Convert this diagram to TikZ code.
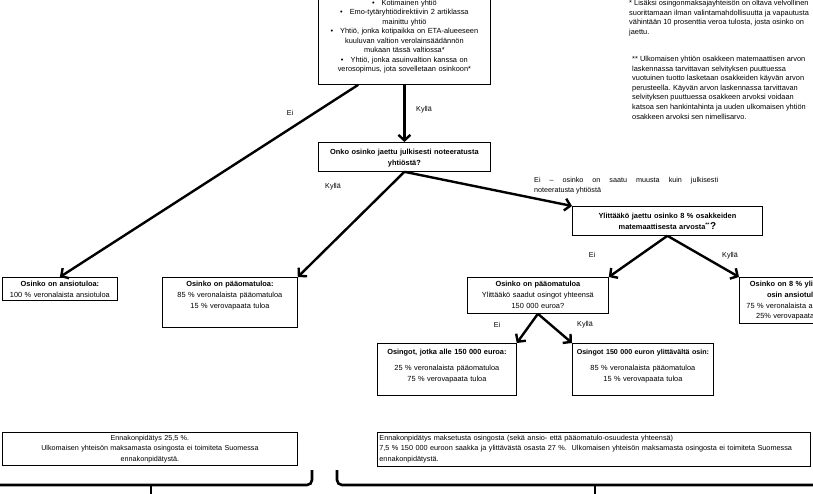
\documentclass[tikz,border=0pt]{standalone}
\usepackage{fontspec}
\setmainfont{Liberation Sans}
\usetikzlibrary{arrows.meta, calc, positioning}
\newcommand{\itemdot}{\textbullet\hspace{7pt}}

\begin{document}
\begin{tikzpicture}[x=1pt,y=-1pt,->,>={Straight Barb[length=5.5pt,width=12pt]},line width=2.4pt]
	\tikzset{
		box/.style 2 args={draw, line width=0.8pt, anchor=north west, inner sep=2pt, align=center,
			font=\fontsize{7.4}{10.8}\selectfont, text width=#1, text height=7pt, text depth=#2},
		lbl/.style={font=\fontsize{7.2}{9}\selectfont, inner sep=0pt},
		note/.style={anchor=north west, align=left, inner sep=0pt, font=\fontsize{7.4}{9.6}\selectfont},
		brace/.style={-, line width=2.6pt, rounded corners=5pt}
	}
	\useasboundingbox (0,0) rectangle (813,493);
	\clip (0,0) rectangle (813,493);

	% question boxes
	\node[box={168pt}{77.3pt}, text height=12.7pt, font=\fontsize{7.4}{9.5}\selectfont] (top) at (318,-10)
		{\itemdot Kotimainen yhtiö\\
		\itemdot Emo-tytäryhtiödirektiivin 2 artiklassa\\
		mainittu yhtiö\\
		\itemdot Yhtiö, jonka kotipaikka on ETA-alueeseen\\
		kuuluvan valtion verolainsäädännön\\
		mukaan tässä valtiossa*\\
		\itemdot Yhtiö, jonka asuinvaltion kanssa on\\
		verosopimus, jota sovelletaan osinkoon*};
	\node[box={168pt}{14.7pt}, text height=10.3pt] (q1) at (318,142)
		{\textbf{Onko osinko jaettu julkisesti noteeratusta\\ yhtiöstä?}};
	\node[box={186pt}{14.7pt}, text height=10.3pt] (q2) at (572,206)
		{\textbf{Ylittääkö jaettu osinko 8 \% osakkeiden\\ matemaattisesta arvosta\textsuperscript{**}{\fontsize{10}{10}\selectfont ?}}};

	% result boxes
	\node[box={111pt}{12pt}] (ans) at (2,277)
		{\textbf{Osinko on ansiotuloa:}\\ 100 \% veronalaista ansiotuloa};
	\node[box={131pt}{39pt}] (pao) at (162,277)
		{\textbf{Osinko on pääomatuloa:}\\ 85 \% veronalaista pääomatuloa\\ 15 \% verovapaata tuloa};
	\node[box={137pt}{25pt}] (pao2) at (467,277)
		{\textbf{Osinko on pääomatuloa}\\ Ylittääkö saadut osingot yhteensä\\ 150 000 euroa?};
	\node[box={106pt}{35pt}] (eight) at (739,277)
		{\textbf{Osinko on 8 \% ylittävältä}\\ \textbf{osin ansiotuloa}\\ 75 \% veronalaista ansiotuloa\\ 25\% verovapaata tuloa};
	\node[box={135pt}{39.3pt}, text height=8.7pt] (low) at (377,343)
		{\textbf{Osingot, jotka alle 150 000 euroa:}\\[6pt] 25 \% veronalaista pääomatuloa\\ 75 \% verovapaata tuloa};
	\node[box={137pt}{39.3pt}, text height=8.7pt] (high) at (572,343)
		{\mbox{\fontsize{7.1}{10.8}\selectfont\textbf{Osingot 150 000 euron ylittävältä osin:}}\\[6pt] 85 \% veronalaista pääomatuloa\\ 15 \% verovapaata tuloa};

	% withholding boxes
	\node[box={291pt}{23.4pt}, text height=5.6pt, font=\fontsize{7.2}{10.5}\selectfont] (wl) at (2,432)
		{Ennakonpidätys 25,5 \%.\\ Ulkomaisen yhteisön maksamasta osingosta ei toimiteta Suomessa\\ ennakonpidätystä.};
	\node[box={429pt}{24.4pt}, text height=5.6pt, align=left, font=\fontsize{7.3}{10.5}\selectfont] (wr) at (377,432)
		{Ennakonpidätys maksetusta osingosta (sekä ansio- että pääomatulo-osuudesta yhteensä)\\
		7,5 \% 150 000 euroon saakka ja ylittävästä osasta 27 \%.\ \ Ulkomaisen yhteisön maksamasta osingosta ei toimiteta Suomessa\\
		ennakonpidätystä.};

	% footnotes
	\node[note] (fn1) at (628,-1)
		{* Lisäksi osingonmaksajayhteisön on oltava velvollinen\\
		suorittamaan ilman valintamahdollisuutta ja vapautusta\\
		vähintään 10 prosenttia veroa tulosta, josta osinko on\\
		jaettu.};
	\node[note] (fn2) at (631,55)
		{** Ulkomaisen yhtiön osakkeen matemaattisen arvon\\
		laskennassa tarvittavan selvityksen puuttuessa\\
		vuotuinen tuotto lasketaan osakkeiden käyvän arvon\\
		perusteella. Käyvän arvon laskennassa tarvittavan\\
		selvityksen puuttuessa osakkeen arvoksi voidaan\\
		katsoa sen hankintahinta ja uuden ulkomaisen yhtiön\\
		osakkeen arvoksi sen nimellisarvo.};

	% connectors
	\draw (top.south) -- (q1.north);
	\draw ($(top.south west)!0.233!(top.south east)$) -- (ans.north);
	\draw (q1.south) -- (pao.north east);
	\draw (q1.south) -- (q2.north west);
	\draw (q2.south) -- (pao2.north east);
	\draw (q2.south) -- (eight.north west);
	\draw (pao2.south) -- (low.north east);
	\draw (pao2.south) -- (high.north west);

	% labels
	\node[lbl] (ei1) at (290,113) {Ei};
	\node[lbl] (ky1) at (424,110) {Kyllä};
	\node[lbl] (ky2) at (333,187) {Kyllä};
	\node[lbl, anchor=north west, align=left, font=\fontsize{7.2}{10}\selectfont] (ei2) at (533,176.5)
		{\makebox[184pt][s]{Ei -- osinko on saatu muusta kuin julkisesti}\\ noteeratusta yhtiöstä};
	\node[lbl] (ei3) at (592,255) {Ei};
	\node[lbl] (ky3) at (730,256) {Kyllä};
	\node[lbl] (ei4) at (497,325) {Ei};
	\node[lbl] (ky4) at (585,325) {Kyllä};

	% braces
	\draw[brace] (312,470) -- (312,485) -- (-20,485);
	\draw[brace, rounded corners=0pt] (151,485) -- (151,500);
	\draw[brace] (337,470) -- (337,485) -- (840,485);
	\draw[brace, rounded corners=0pt] (595,485) -- (595,500);
\end{tikzpicture}
\end{document}
